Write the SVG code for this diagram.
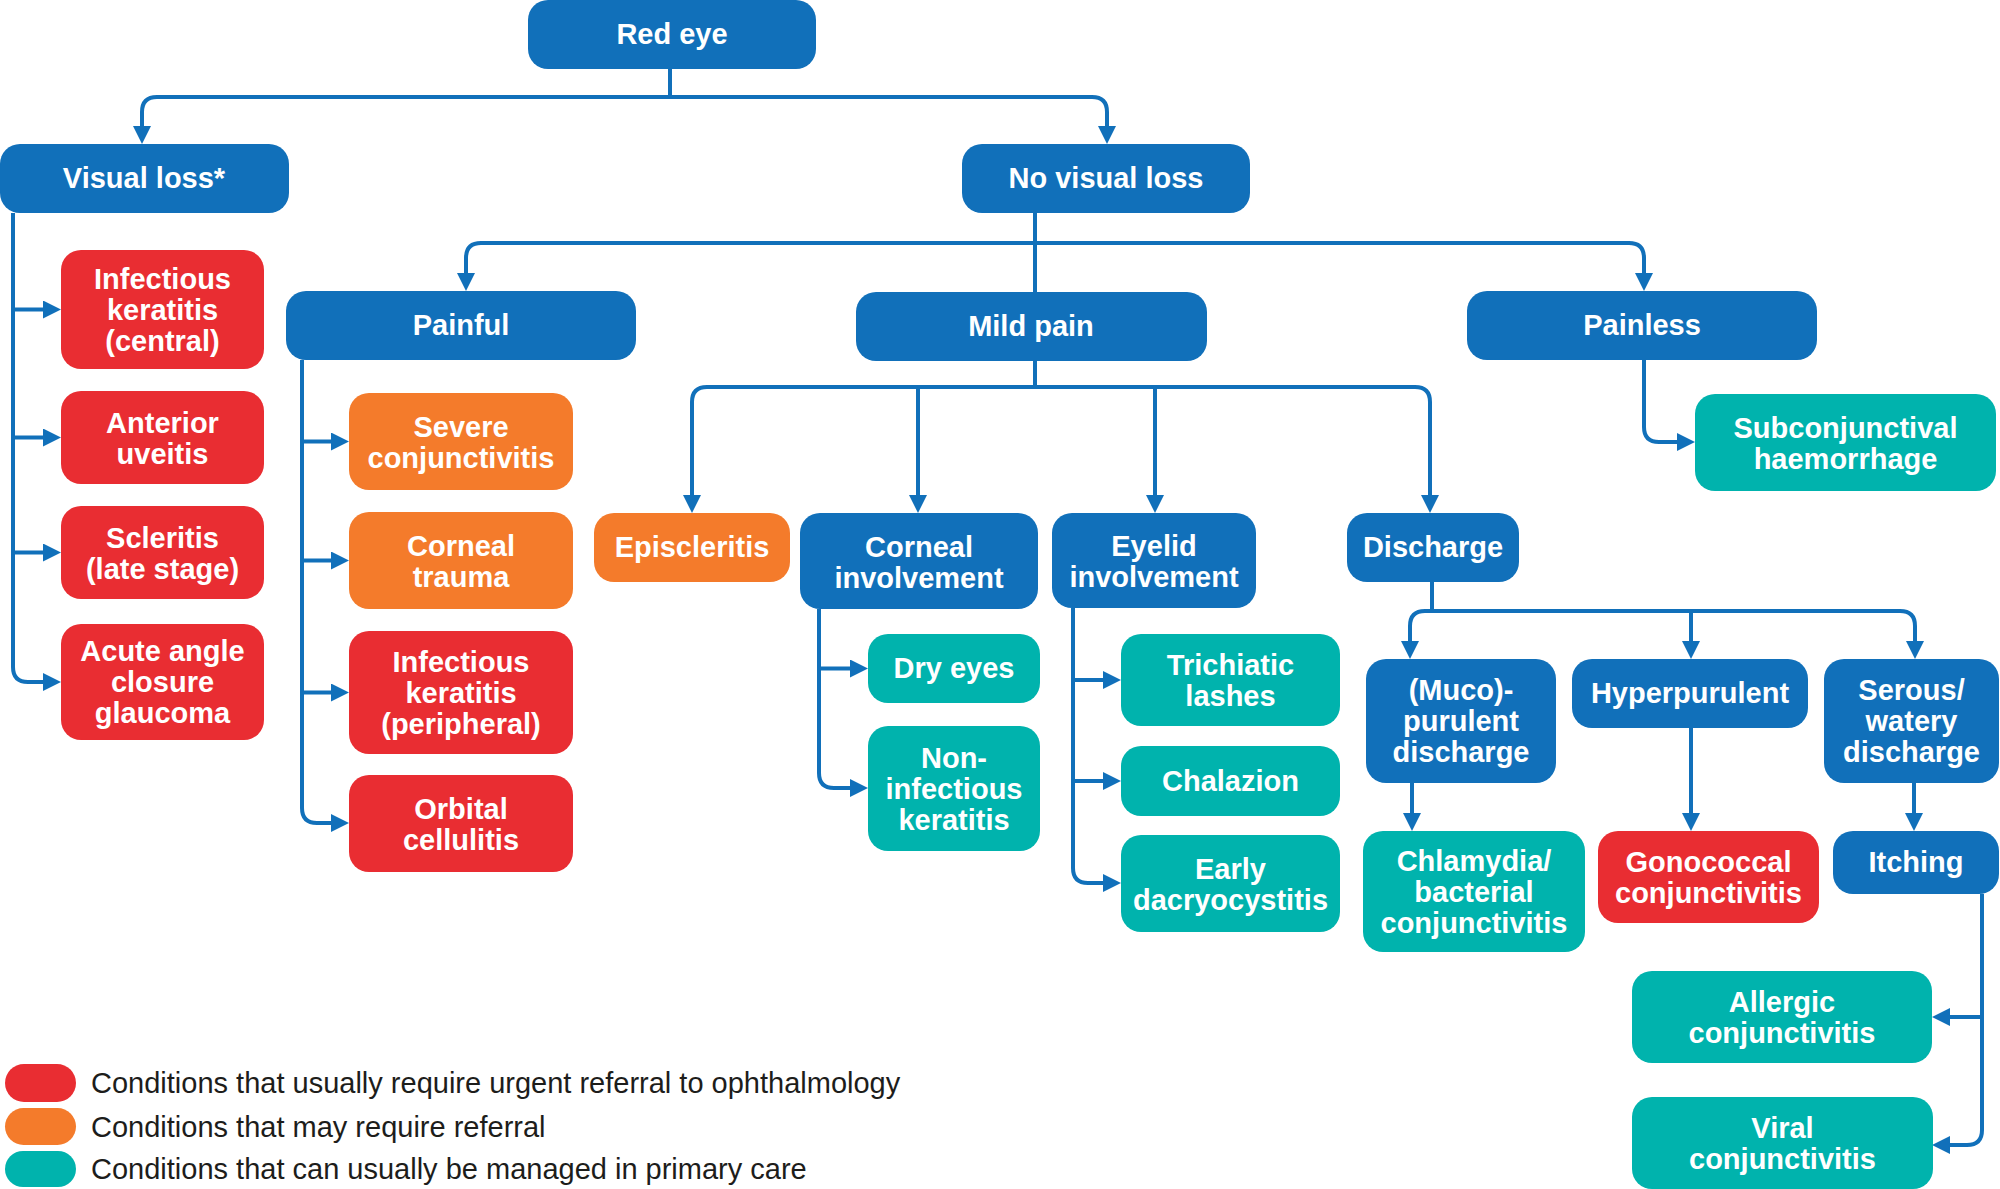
<svg xmlns="http://www.w3.org/2000/svg" width="2000" height="1189" viewBox="0 0 2000 1189">
<style>
.b{fill:#1170BA}.r{fill:#E92D32}.o{fill:#F47B2B}.t{fill:#00B3AD}
.n text{font-family:"Liberation Sans",Arial,sans-serif;font-weight:bold;font-size:29px;fill:#fff;text-anchor:middle}
.c path{fill:none;stroke:#1170BA;stroke-width:4}
.c .a{marker-end:url(#ah)}
.lg text{font-family:"Liberation Sans",Arial,sans-serif;font-size:29px;fill:#1d1d1b}
</style>
<defs>
<marker id="ah" viewBox="0 0 18 18" refX="12" refY="9" markerWidth="18" markerHeight="18" markerUnits="userSpaceOnUse" orient="auto"><path d="M0,0 L18,9 L0,18 z" fill="#1170BA"/></marker>
</defs>
<rect width="2000" height="1189" fill="#fff"/>
<g class="c" id="connectors">
<path class="a" d="M670,69 V97 H157 Q142,97 142,112 V138"/>
<path class="a" d="M670,97 H1092 Q1107,97 1107,112 V138"/>
<path class="a" d="M13,213 V667 Q13,682 28,682 H55"/>
<path class="a" d="M13,309.5 H55"/>
<path class="a" d="M13,437.5 H55"/>
<path class="a" d="M13,552.5 H55"/>
<path d="M1035,213 V292"/>
<path class="a" d="M1035,243 H481 Q466,243 466,258 V285"/>
<path class="a" d="M1035,243 H1629 Q1644,243 1644,258 V285"/>
<path class="a" d="M1035,361 V387 H707 Q692,387 692,402 V507"/>
<path class="a" d="M1035,387 H1415 Q1430,387 1430,402 V507"/>
<path class="a" d="M918,387 V507"/>
<path class="a" d="M1155,387 V507"/>
<path class="a" d="M302,360 V808 Q302,823 317,823 H343"/>
<path class="a" d="M302,441.5 H343"/>
<path class="a" d="M302,560.5 H343"/>
<path class="a" d="M302,692.5 H343"/>
<path class="a" d="M1644,360 V427 Q1644,442 1659,442 H1689"/>
<path class="a" d="M819,609 V773 Q819,788 834,788 H862"/>
<path class="a" d="M819,668.5 H862"/>
<path class="a" d="M1073,608 V868 Q1073,883 1088,883 H1115"/>
<path class="a" d="M1073,680 H1115"/>
<path class="a" d="M1073,781 H1115"/>
<path d="M1432,582 V611"/>
<path class="a" d="M1432,611 H1425 Q1410,611 1410,626 V653"/>
<path class="a" d="M1432,611 H1900 Q1915,611 1915,626 V653"/>
<path class="a" d="M1691,611 V653"/>
<path class="a" d="M1412,783 V825"/>
<path class="a" d="M1691,728 V825"/>
<path class="a" d="M1914,783 V825"/>
<path class="a" d="M1982,894 V1130 Q1982,1145 1967,1145 H1938"/>
<path class="a" d="M1982,1017 H1938"/>
</g>
<g class="n">
<g id="red-eye"><rect class="b" x="528" y="0" width="288" height="69" rx="20"/><text x="672" y="44">Red eye</text></g>
<g id="visual-loss"><rect class="b" x="0" y="144" width="289" height="69" rx="20"/><text x="144" y="188">Visual loss*</text></g>
<g id="no-visual-loss"><rect class="b" x="962" y="144" width="288" height="69" rx="20"/><text x="1106" y="188">No visual loss</text></g>
<g id="painful"><rect class="b" x="286" y="291" width="350" height="69" rx="20"/><text x="461" y="335">Painful</text></g>
<g id="mild-pain"><rect class="b" x="856" y="292" width="351" height="69" rx="20"/><text x="1031" y="336">Mild pain</text></g>
<g id="painless"><rect class="b" x="1467" y="291" width="350" height="69" rx="20"/><text x="1642" y="335">Painless</text></g>
<g id="infectious-keratitis-central"><rect class="r" x="61" y="250" width="203" height="119" rx="20"/><text x="162.5" y="289">Infectious</text><text x="162.5" y="320">keratitis</text><text x="162.5" y="351">(central)</text></g>
<g id="anterior-uveitis"><rect class="r" x="61" y="391" width="203" height="93" rx="20"/><text x="162.5" y="433">Anterior</text><text x="162.5" y="464">uveitis</text></g>
<g id="scleritis"><rect class="r" x="61" y="506" width="203" height="93" rx="20"/><text x="162.5" y="548">Scleritis</text><text x="162.5" y="579">(late stage)</text></g>
<g id="acute-angle-closure-glaucoma"><rect class="r" x="61" y="624" width="203" height="116" rx="20"/><text x="162.5" y="661">Acute angle</text><text x="162.5" y="692">closure</text><text x="162.5" y="723">glaucoma</text></g>
<g id="severe-conjunctivitis"><rect class="o" x="349" y="393" width="224" height="97" rx="20"/><text x="461" y="437">Severe</text><text x="461" y="468">conjunctivitis</text></g>
<g id="corneal-trauma"><rect class="o" x="349" y="512" width="224" height="97" rx="20"/><text x="461" y="556">Corneal</text><text x="461" y="587">trauma</text></g>
<g id="infectious-keratitis-peripheral"><rect class="r" x="349" y="631" width="224" height="123" rx="20"/><text x="461" y="672">Infectious</text><text x="461" y="703">keratitis</text><text x="461" y="734">(peripheral)</text></g>
<g id="orbital-cellulitis"><rect class="r" x="349" y="775" width="224" height="97" rx="20"/><text x="461" y="819">Orbital</text><text x="461" y="850">cellulitis</text></g>
<g id="episcleritis"><rect class="o" x="594" y="513" width="196" height="69" rx="20"/><text x="692" y="557">Episcleritis</text></g>
<g id="corneal-involvement"><rect class="b" x="800" y="513" width="238" height="96" rx="20"/><text x="919" y="557">Corneal</text><text x="919" y="588">involvement</text></g>
<g id="eyelid-involvement"><rect class="b" x="1052" y="513" width="204" height="95" rx="20"/><text x="1154" y="556">Eyelid</text><text x="1154" y="587">involvement</text></g>
<g id="discharge"><rect class="b" x="1347" y="513" width="172" height="69" rx="20"/><text x="1433" y="557">Discharge</text></g>
<g id="subconjunctival-haemorrhage"><rect class="t" x="1695" y="394" width="301" height="97" rx="20"/><text x="1845.5" y="438">Subconjunctival</text><text x="1845.5" y="469">haemorrhage</text></g>
<g id="dry-eyes"><rect class="t" x="868" y="634" width="172" height="69" rx="20"/><text x="954" y="678">Dry eyes</text></g>
<g id="non-infectious-keratitis"><rect class="t" x="868" y="726" width="172" height="125" rx="20"/><text x="954" y="768">Non-</text><text x="954" y="799">infectious</text><text x="954" y="830">keratitis</text></g>
<g id="trichiatic-lashes"><rect class="t" x="1121" y="634" width="219" height="92" rx="20"/><text x="1230.5" y="675">Trichiatic</text><text x="1230.5" y="706">lashes</text></g>
<g id="chalazion"><rect class="t" x="1121" y="746" width="219" height="70" rx="20"/><text x="1230.5" y="791">Chalazion</text></g>
<g id="early-dacryocystitis"><rect class="t" x="1121" y="835" width="219" height="97" rx="20"/><text x="1230.5" y="879">Early</text><text x="1230.5" y="910">dacryocystitis</text></g>
<g id="muco-purulent-discharge"><rect class="b" x="1366" y="659" width="190" height="124" rx="20"/><text x="1461" y="700">(Muco)-</text><text x="1461" y="731">purulent</text><text x="1461" y="762">discharge</text></g>
<g id="hyperpurulent"><rect class="b" x="1572" y="659" width="236" height="69" rx="20"/><text x="1690" y="703">Hyperpurulent</text></g>
<g id="serous-watery-discharge"><rect class="b" x="1824" y="659" width="175" height="124" rx="20"/><text x="1911.5" y="700">Serous/</text><text x="1911.5" y="731">watery</text><text x="1911.5" y="762">discharge</text></g>
<g id="chlamydia-bacterial-conjunctivitis"><rect class="t" x="1363" y="831" width="222" height="121" rx="20"/><text x="1474" y="871">Chlamydia/</text><text x="1474" y="902">bacterial</text><text x="1474" y="933">conjunctivitis</text></g>
<g id="gonococcal-conjunctivitis"><rect class="r" x="1598" y="831" width="221" height="92" rx="20"/><text x="1708.5" y="872">Gonococcal</text><text x="1708.5" y="903">conjunctivitis</text></g>
<g id="itching"><rect class="b" x="1833" y="831" width="166" height="63" rx="20"/><text x="1916" y="872">Itching</text></g>
<g id="allergic-conjunctivitis"><rect class="t" x="1632" y="971" width="300" height="92" rx="20"/><text x="1782" y="1012">Allergic</text><text x="1782" y="1043">conjunctivitis</text></g>
<g id="viral-conjunctivitis"><rect class="t" x="1632" y="1097" width="301" height="92" rx="20"/><text x="1782.5" y="1138">Viral</text><text x="1782.5" y="1169">conjunctivitis</text></g>
</g>
<g class="lg" id="legend">
<rect class="r" x="5" y="1064" width="71" height="38" rx="19"/>
<rect class="o" x="5" y="1108" width="71" height="37" rx="18.5"/>
<rect class="t" x="5" y="1151" width="71" height="36" rx="18"/>
<text x="91" y="1093">Conditions that usually require urgent referral to ophthalmology</text>
<text x="91" y="1137">Conditions that may require referral</text>
<text x="91" y="1179">Conditions that can usually be managed in primary care</text>
</g>
</svg>
